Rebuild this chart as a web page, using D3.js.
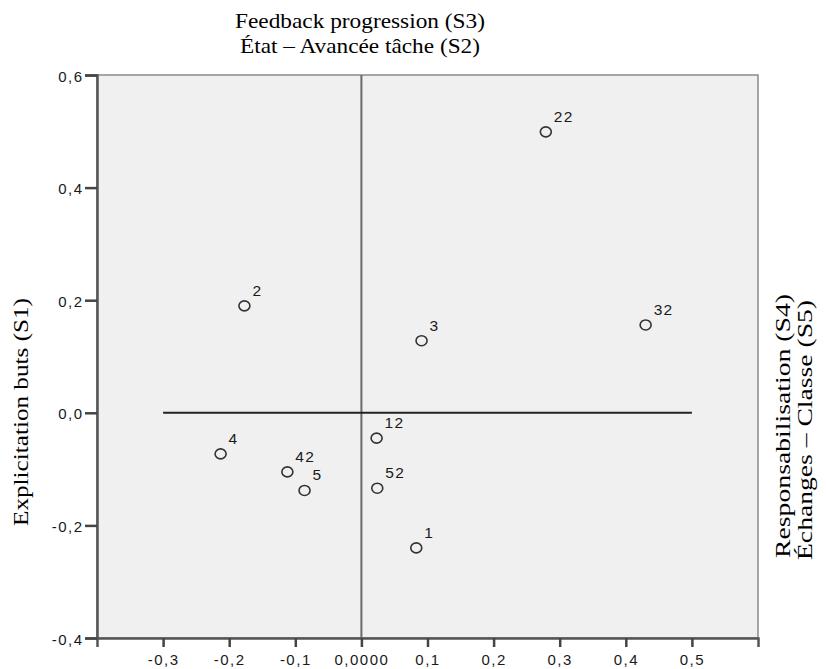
<!DOCTYPE html>
<html>
<head>
<meta charset="utf-8">
<script src="https://cdn.jsdelivr.net/npm/d3@7"></script>
<style>
  body { margin: 0; background: #fff; }
  svg { display: block; }
</style>
</head>
<body>
<svg class="chart" width="826" height="669"></svg>
<script>
// données
const labels = ["22", "2", "32", "3", "12", "4", "42", "5", "52", "1"];
const xValues = [0.279, -0.177, 0.430, 0.091, 0.023, -0.213, -0.112, -0.086, 0.024, 0.083];
const yValues = [0.499, 0.190, 0.156, 0.128, -0.045, -0.073, -0.105, -0.138, -0.134, -0.240];
const xTicks = [-0.3, -0.2, -0.1, 0, 0.1, 0.2, 0.3, 0.4, 0.5];
const yTicks = [-0.4, -0.2, 0, 0.2, 0.4, 0.6];
const titleTop = ["Feedback progression (S3)", "État – Avancée tâche (S2)"];
const titleLeft = "Explicitation buts (S1)";
const titleRight = ["Responsabilisation (S4)", "Échanges – Classe (S5)"];

const svg = d3.select(".chart");
const mLeft = 97, mRight = 758, mTop = 75, mBottom = 638;

const x = d3.scaleLinear().domain([-0.4, 0.6]).range([mLeft, mRight]);
const y = d3.scaleLinear().domain([-0.4, 0.6]).range([mBottom, mTop]);

const fmt = v => v === 0 ? "0,0000" : d3.format(".1f")(v).replace(".", ",").replace("−", "-");
const fmtY = v => d3.format(".1f")(v).replace(".", ",").replace("−", "-");

// fond
svg.append("rect")
  .attr("x", mLeft).attr("y", mTop)
  .attr("width", mRight - mLeft).attr("height", mBottom - mTop)
  .attr("fill", "#f0f0f0")
  .attr("stroke", "#8a8a8a")
  .attr("stroke-width", 1.5);

// lignes de référence
svg.append("line")
  .attr("x1", x(0)).attr("x2", x(0))
  .attr("y1", mTop).attr("y2", mBottom)
  .attr("stroke", "#6a6a6a").attr("stroke-width", 2);
svg.append("line")
  .attr("x1", x(-0.3)).attr("x2", x(0.5))
  .attr("y1", y(0)).attr("y2", y(0))
  .attr("stroke", "#222").attr("stroke-width", 2);

// axes
const xAxis = svg.append("g")
  .attr("transform", `translate(0,${mBottom})`)
  .call(d3.axisBottom(x).tickValues(xTicks).tickSize(9).tickPadding(7).tickFormat(fmt));
const yAxis = svg.append("g")
  .attr("transform", `translate(${mLeft},0)`)
  .call(d3.axisLeft(y).tickValues(yTicks).tickSize(12).tickPadding(1.5).tickFormat(fmtY));

[xAxis, yAxis].forEach(a => {
  a.select(".domain").attr("stroke", "#555").attr("stroke-width", 2.5);
  a.selectAll(".tick line").attr("stroke", "#444").attr("stroke-width", 2.5);
  a.selectAll(".tick text")
    .attr("fill", "#1a1a1a")
    .style("font-family", "'Liberation Sans', Arial, sans-serif")
    .style("font-size", "15px")
    .style("letter-spacing", "1.5px");
});
yAxis.selectAll(".tick text").attr("dy", "0.4em");

// points
const pts = svg.append("g").selectAll("g")
  .data(labels)
  .enter()
  .append("g")
  .attr("transform", (d, i) => `translate(${x(xValues[i])},${y(yValues[i])})`);

pts.append("ellipse")
  .attr("rx", 5.5).attr("ry", 5)
  .attr("fill", "none")
  .attr("stroke", "#333")
  .attr("stroke-width", 1.6);

pts.append("text")
  .text(d => d)
  .attr("x", 8).attr("y", -10)
  .attr("fill", "#1a1a1a")
  .style("font-family", "'Liberation Sans', Arial, sans-serif")
  .style("font-size", "15.5px")
  .style("letter-spacing", "1.3px");

// titres
const serif = "'Liberation Serif', 'Times New Roman', serif";
const topLen = [250, 240];
svg.append("g").selectAll("text")
  .data(titleTop)
  .enter()
  .append("text")
  .text(d => d)
  .attr("x", 360)
  .attr("y", (d, i) => 28 + i * 25)
  .attr("text-anchor", "middle")
  .attr("textLength", (d, i) => topLen[i])
  .attr("lengthAdjust", "spacingAndGlyphs")
  .style("font-family", serif)
  .style("font-size", "22px");

svg.append("text")
  .text(titleLeft)
  .attr("transform", "translate(28,412) rotate(-90)")
  .attr("text-anchor", "middle")
  .attr("textLength", 228)
  .attr("lengthAdjust", "spacingAndGlyphs")
  .style("font-family", serif)
  .style("font-size", "22px");

const rightLen = [264, 260];
const rightMid = [426, 430];
svg.append("g").selectAll("text")
  .data(titleRight)
  .enter()
  .append("text")
  .text(d => d)
  .attr("transform", (d, i) => `translate(${790 + i * 22},${rightMid[i]}) rotate(-90)`)
  .attr("text-anchor", "middle")
  .attr("textLength", (d, i) => rightLen[i])
  .attr("lengthAdjust", "spacingAndGlyphs")
  .style("font-family", serif)
  .style("font-size", "22px");
</script>
</body>
</html>
